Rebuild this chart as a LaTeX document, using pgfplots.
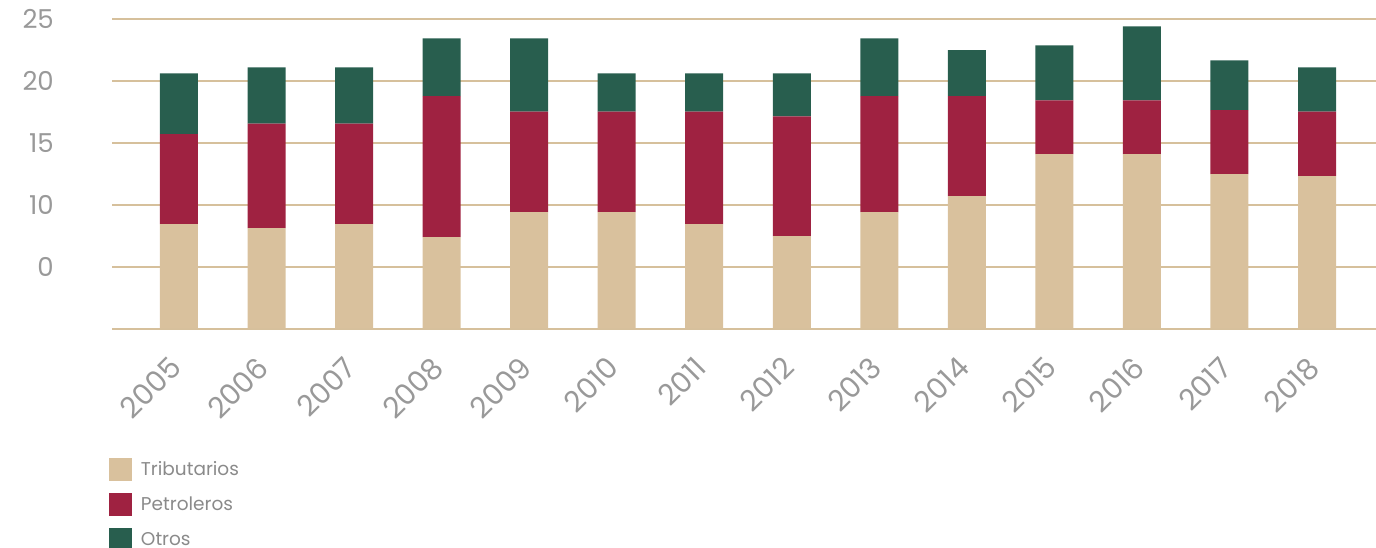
\documentclass[border=0pt]{standalone}
\usepackage{fontspec}
\setmainfont{Poppins}
\usepackage{pgfplots}
\pgfplotsset{compat=1.18}
\definecolor{trib}{HTML}{D9C19D}
\definecolor{petro}{HTML}{9F2241}
\definecolor{otros}{HTML}{285E4E}
\definecolor{gridc}{HTML}{D6C09C}
\definecolor{tickc}{HTML}{999999}
\definecolor{legc}{HTML}{8A8A8A}
\begin{document}
\begin{tikzpicture}
\begin{axis}[
  name=ax,
  scale only axis,
  width=1264pt, height=309.7pt,
  ybar stacked,
  bar width=0.434,
  xmin=-0.765, xmax=13.674,
  ymin=0, ymax=25,
  xtick={0,...,13},
  xticklabels={2005,2006,2007,2008,2009,2010,2011,2012,2013,2014,2015,2016,2017,2018},
  ytick={0,5,10,15,20,25},
  yticklabels={,0,10,15,20,25},
  /pgf/number format/assume math mode=true,
  axis line style={draw=none},
  major tick length=0pt,
  ymajorgrids,
  grid style={gridc, line width=2pt},
  yticklabel style={font=\fontsize{26}{26}\selectfont, text=tickc, anchor=east, inner sep=0pt, xshift=-58pt},
  xticklabel style={font=\fontsize{29}{29}\selectfont, text=tickc, xshift=-11pt, yshift=-26pt, rotate=45, anchor=north east, inner sep=0pt},
  legend style={draw=none, fill=none, at={(-0.0024,-0.4175)}, anchor=north west, inner sep=0pt, outer sep=0pt,
    font=\fontsize{18.5}{18.5}\selectfont, text=legc, row sep=12pt,
    nodes={inner sep=0pt}},
  legend cell align=left,
  /tikz/every odd column/.style={column sep=9pt},
  legend image code/.code={\fill[#1] (0pt,-11.5pt) rectangle (23pt,11.5pt);},
]
\addplot[fill=trib, draw=none] coordinates {(0,8.44) (1,8.12) (2,8.44) (3,7.40) (4,9.41) (5,9.41) (6,8.44) (7,7.48) (8,9.41) (9,10.70) (10,14.09) (11,14.09) (12,12.48) (13,12.31)};
\addplot[fill=petro, draw=none] coordinates {(0,7.26) (1,8.44) (2,8.12) (3,11.37) (4,8.12) (5,8.12) (6,9.09) (7,9.67) (8,9.36) (9,8.07) (10,4.35) (11,4.35) (12,5.16) (13,5.22)};
\addplot[fill=otros, draw=none] coordinates {(0,4.92) (1,4.54) (2,4.54) (3,4.67) (4,5.91) (5,3.09) (6,3.09) (7,3.47) (8,4.67) (9,3.71) (10,4.44) (11,5.97) (12,4.03) (13,3.57)};
\legend{Tributarios,Petroleros,Otros}
\end{axis}
\pgfresetboundingbox
\path ([xshift=-112pt,yshift=-218.3pt]ax.south west) rectangle ([yshift=19pt]ax.north east);
\end{tikzpicture}
\end{document}
